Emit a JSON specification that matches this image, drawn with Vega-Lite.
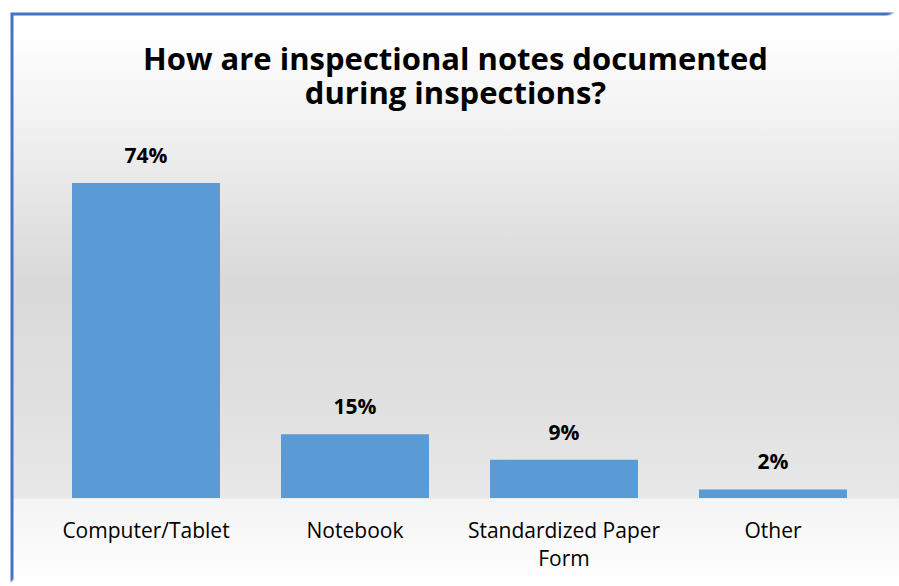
{
  "$schema": "https://vega.github.io/schema/vega-lite/v6.json",
  "width": 887,
  "height": 572,
  "autosize": {"type": "none"},
  "padding": {"left": 12, "top": 14, "right": 0, "bottom": 0},
  "background": "#ffffff",
  "title": {
    "text": ["How are inspectional notes documented", "during inspections?"],
    "font": "Open Sans",
    "fontSize": 31,
    "fontWeight": "bold",
    "color": "#000000",
    "lineHeight": 34,
    "anchor": "middle",
    "frame": "group",
    "offset": -97
  },
  "config": {
    "view": {
      "stroke": {
        "gradient": "linear",
        "x1": 0, "y1": 0, "x2": 1, "y2": 1,
        "stops": [
          {"offset": 0, "color": "#4472C4"},
          {"offset": 0.494, "color": "#4472C4"},
          {"offset": 0.497, "color": "rgba(68,114,196,0)"},
          {"offset": 1, "color": "rgba(68,114,196,0)"}
        ]
      },
      "strokeWidth": 3,
      "fill": {
        "gradient": "linear",
        "x1": 0, "y1": 0, "x2": 0, "y2": 1,
        "stops": [
          {"offset": 0, "color": "#ffffff"},
          {"offset": 0.028, "color": "#ffffff"},
          {"offset": 0.185, "color": "#f2f2f2"},
          {"offset": 0.465, "color": "#d9d9d9"},
          {"offset": 0.675, "color": "#e0e0e0"},
          {"offset": 0.845, "color": "#e8e8e8"},
          {"offset": 0.849, "color": "#f4f4f4"},
          {"offset": 1, "color": "#ffffff"}
        ]
      }
    },
    "font": "Open Sans"
  },
  "data": {
    "values": [
      {"method": "Computer/Tablet", "share": 0.74},
      {"method": "Notebook", "share": 0.15},
      {"method": "Standardized Paper Form", "share": 0.09},
      {"method": "Other", "share": 0.02}
    ]
  },
  "encoding": {
    "x": {
      "field": "method",
      "type": "nominal",
      "sort": null,
      "scale": {"range": [29.5, 865.5], "paddingInner": 0.292, "paddingOuter": 0.146},
      "axis": {
        "title": null,
        "orient": "bottom",
        "offset": -88,
        "domain": false,
        "ticks": false,
        "labelAngle": 0,
        "labelFont": "Open Sans",
        "labelFontSize": 21,
        "labelColor": "#000000",
        "labelPadding": 22,
        "labelLineHeight": 28,
        "labelLimit": 0,
        "labelExpr": "datum.value == 'Standardized Paper Form' ? ['Standardized Paper', 'Form'] : datum.value"
      }
    },
    "y": {
      "field": "share",
      "type": "quantitative",
      "scale": {"domain": [-0.2067, 1.137], "nice": false, "zero": false},
      "axis": null
    }
  },
  "layer": [
    {"mark": {"type": "bar", "color": "#5B9BD5"}},
    {
      "mark": {"type": "text", "font": "Open Sans", "fontSize": 21, "fontWeight": "bold", "color": "#000000", "baseline": "alphabetic", "dy": -20},
      "encoding": {"text": {"field": "share", "type": "quantitative", "format": ".0%"}}
    }
  ]
}
